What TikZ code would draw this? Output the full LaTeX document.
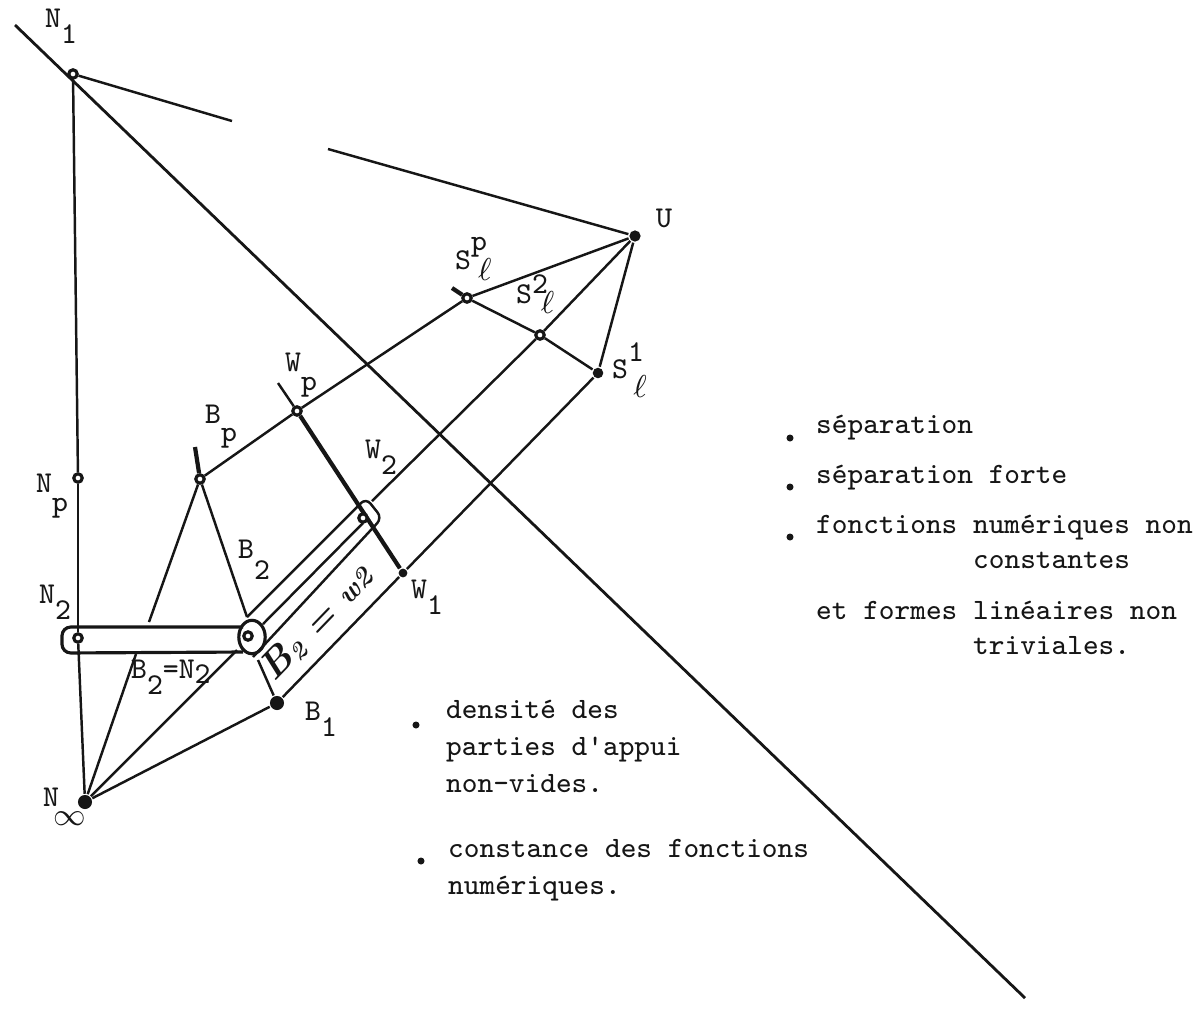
\documentclass[tikz,border=0pt]{standalone}
\usetikzlibrary{positioning, shapes.geometric}
\definecolor{cink}{HTML}{161616}
\newcommand{\dn}[2][4.8pt]{\raisebox{-#1}{#2}}
\newcommand{\up}[2][4.8pt]{\raisebox{#1}{#2}}
\tikzset{
  every picture/.style={x=0.01cm, y=-0.01cm, line width=0.7pt, draw=cink, text=cink},
  dotpt/.style={circle, draw=cink, fill=white, line width=0.9pt, inner sep=0pt, minimum size=2.4pt},
  dotfull/.style={circle, fill=cink, inner sep=0pt, minimum size=#1},
  dotfull/.default=3pt,
  lab/.style={anchor=base west, inner sep=0pt, font=\fontsize{8.6}{10}\ttfamily},
  typed/.style={anchor=base west, inner sep=0pt, font=\fontsize{8.4}{10}\ttfamily},
  bullet/.style={circle, fill=cink, inner sep=0pt, minimum size=2pt},
  heavy/.style={line width=1.2pt},
  longline/.style={line width=0.8pt},
}
\begin{document}
\begin{tikzpicture}
  \useasboundingbox (0,0) rectangle (1200,1011);
  % points of the figure
  \node[dotpt] (n1) at (73,74) {};
  \node[dotfull=3.2pt] (u) at (635,236) {};
  \node[dotfull=4pt] (ninf) at (85,802) {};
  \node[dotpt] (np) at (78,478) {};
  \node[dotpt] (n2) at (78,638) {};
  \node[dotfull=4pt] (b1) at (277,703) {};
  \node[dotpt] (bp) at (200,479) {};
  \node[dotpt] (wp) at (297,411) {};
  \node[dotfull=2.5pt] (w1) at (403,573) {};
  \node[dotpt] (sp) at (467,298) {};
  \node[dotpt] (s2) at (540,335) {};
  \node[dotfull=3pt] (s1) at (598,373) {};
  % free ends
  \coordinate (diagA) at (15,25);
  \coordinate (diagB) at (1025,998);
  \coordinate (gapA) at (232,121);
  \coordinate (gapB) at (328,149);
  \coordinate (bpA) at (136,654);
  \coordinate (bpB) at (149,622);
  \coordinate (bpTick) at (195,447);
  \coordinate (wpTick) at (278,383);
  \coordinate (spTick) at (452,288);
  \coordinate (b2A) at (247,617);
  \coordinate (b2B) at (258,660);
  \coordinate (w2) at (363,523);
  \coordinate (midA) at (237,650);
  \coordinate (midB) at (263,624);
  \coordinate (endS) at (372,501);
  % lines
  \draw[longline] (diagA) -- (diagB);
  \draw (n1) -- (gapA);
  \draw (gapB) -- (u);
  \draw (n1) -- (np);
  \draw (np) -- (n2);
  \draw (n2) -- (ninf);
  \draw (ninf) -- (bpA);
  \draw (bpB) -- (bp);
  \draw[heavy] (bpTick) -- (bp);
  \draw (bp) -- (b2A);
  \draw (b2B) -- (b1);
  \draw (ninf) -- (b1);
  \draw (ninf) -- (midA);
  \draw (midB) -- (w2);
  \draw (bp) -- (wp);
  \draw (wp) -- (sp);
  \draw (sp) -- (u);
  \draw[heavy] (spTick) -- (sp);
  \draw (sp) -- (s2);
  \draw (s2) -- (s1);
  \draw (s2) -- (u);
  \draw (s1) -- (u);
  \draw (s1) -- (w1);
  \draw (w1) -- (b1);
  \draw (wpTick) -- (wp);
  \draw[heavy] (wp) -- (w1);
  % the two strips
  \draw[line width=0.9pt, rounded corners=2.5pt] (243,627) -- (62,627) -- (62,653) -- (243,652);
  \draw[rounded corners=2pt] (b2A) -- (366,498) -- (382,518) -- (253,657);
  \draw (s2) -- (endS);
  \node[draw=cink, line width=0.9pt, ellipse, inner sep=0pt, minimum width=7.5pt, minimum height=9.5pt] (b2) at (252,637) {};
  \node[dotpt] (b2dot) at (248,636) {};
  \node[dotpt] (w2dot) at (363,518) {};
  % labels
  \node[lab] (ln1) at (44,27) {N\dn{1}};
  \node[lab] (lu) at (655,227) {U};
  \node[lab] (lsp) at (454,269) {S\rlap{\up[5.2pt]{p}}\hspace{2pt}\dn[3.4pt]{$\ell$}};
  \node[lab] (ls2) at (515,303) {S\rlap{\up[2.8pt]{2}}\hspace{2.5pt}\dn[3pt]{$\ell$}};
  \node[lab] (ls1) at (611,378) {S\rlap{\up[4.8pt]{1}}\hspace{1.5pt}\dn[5.4pt]{$\ell$}};
  \node[lab] (lwp) at (284,371) {W\dn[5.5pt]{p}};
  \node[lab] (lw2) at (364,458) {W\dn{2}};
  \node[lab] (lbp) at (204,423) {B\dn[5.2pt]{p}};
  \node[lab] (lnp) at (35,492) {N\dn[5.5pt]{p}};
  \node[lab] (ln2) at (38,603) {N\dn{2}};
  \node[lab] (lb2) at (237,558) {B\dn[6pt]{2}};
  \node[lab] (lw1) at (410,598) {W\dn{1}};
  \node[lab] (lb1) at (304,720) {B\dn{1}};
  \node[lab] (lninf) at (42,806) {N\hspace{-1.5pt}\dn[5.5pt]{$\infty$}};
  \node[lab] (lbn) at (130,678) {B\dn{2}=N\dn[1.5pt]{2}};
  \node[rotate=46, inner sep=0pt, font=\rmfamily\itshape\bfseries] (hand) at (317,623) {{\fontsize{11}{12}\selectfont B}\raisebox{-1pt}{\scriptsize 2} = {\footnotesize w2}};
  % typed text, right
  \node[bullet] (r1) at (790,438) {};
  \node[typed] (t1) at (815,433) {séparation};
  \node[bullet] (r2) at (790,487) {};
  \node[typed] (t2) at (815,483) {séparation forte};
  \node[bullet] (r3) at (790,537) {};
  \node[typed] (t3) at (815,533) {fonctions numériques non};
  \node[typed] (t4) at (972,568) {constantes};
  \node[typed] (t5) at (815,619) {et formes linéaires non};
  \node[typed] (t6) at (972,654) {triviales.};
  % typed text, bottom
  \node[bullet] (c1) at (416,725) {};
  \node[typed] (t7) at (445,718) {densité des};
  \node[typed] (t8) at (445,755) {parties d'appui};
  \node[typed] (t9) at (445,792) {non-vides.};
  \node[bullet] (c2) at (421,861) {};
  \node[typed] (t10) at (447,857) {constance des fonctions};
  \node[typed] (t11) at (447,894) {numériques.};
\end{tikzpicture}
\end{document}
